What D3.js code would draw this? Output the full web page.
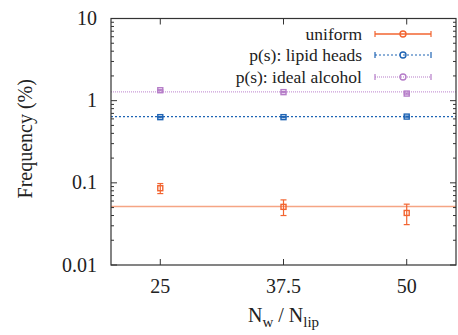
<!DOCTYPE html>
<html><head><meta charset="utf-8">
<script src="https://cdn.jsdelivr.net/npm/d3@7"></script>
<style>body{margin:0;background:#fff}svg{display:block}</style>
</head><body><svg id="c" width="458" height="335"></svg>
<script>
const ratios = [25, 37.5, 50];
const xTickLabels = ["25", "37.5", "50"];
const yTickValues = [0.01, 0.1, 1, 10];
const yTickLabels = ["0.01", "0.1", "1", "10"];
const seriesNames = ["uniform", "p(s): lipid heads", "p(s): ideal alcohol"];
const uniformVals = [0.086, 0.051, 0.043];
const uniformErr = [0.012, 0.011, 0.012];
const lipidVals = [0.63, 0.63, 0.64];
const lipidErr = [0.01, 0.01, 0.01];
const alcoholVals = [1.34, 1.27, 1.22];
const alcoholErr = [0.02, 0.02, 0.02];
const refLevels = [0.0515, 0.64, 1.28];
const colors = ["#f26430", "#1f64b4", "#b57cc8"];
const lineColors = ["#f5a584", "#1f64b4", "#c99bd8"];
const FONT = "Liberation Serif";

const svg = d3.select("#c");
const m = {l:111, r:2, t:18.5, b:70};
const W = 458, H = 335;
const x = d3.scaleLinear().domain([20, 55]).range([m.l, W - m.r]);
const y = d3.scaleLog().domain([0.01, 10]).range([H - m.b, m.t]);
const x0 = m.l, x1 = W - m.r, y0 = H - m.b, y1 = m.t;
const txtCol = "#222";
const T = () => svg.append("text").attr("font-family", FONT).attr("fill", txtCol);

const dashes = [null, "2,2", "1,1"];
refLevels.forEach((v,i)=>{
  svg.append("line").attr("x1",x0).attr("x2",x1).attr("y1",y(v)).attr("y2",y(v))
    .attr("stroke",lineColors[i]).attr("stroke-width",i===0?1.6:1.1)
    .attr("stroke-dasharray",dashes[i]);
});

const g = svg.append("g").attr("stroke","#333").attr("fill","none");
g.append("rect").attr("x",x0).attr("y",y1).attr("width",x1-x0).attr("height",y0-y1).attr("stroke-width",1.2);
ratios.forEach(r=>{
  g.append("line").attr("x1",x(r)).attr("x2",x(r)).attr("y1",y0).attr("y2",y0-6);
  g.append("line").attr("x1",x(r)).attr("x2",x(r)).attr("y1",y1).attr("y2",y1+6);
});
const minor = [];
for (let d=0.01; d<10; d*=10) for (let k=1;k<10;k++) minor.push(d*k);
minor.push(10);
minor.forEach(v=>{
  const major = yTickValues.some(t=>Math.abs(t-v)/t<1e-6);
  const len = major?6:3;
  g.append("line").attr("x1",x0).attr("x2",x0+len).attr("y1",y(v)).attr("y2",y(v));
  g.append("line").attr("x1",x1).attr("x2",x1-len).attr("y1",y(v)).attr("y2",y(v));
});

yTickValues.forEach((v,i)=>{
  T().attr("x",x0-14).attr("y",y(v)).attr("dy","0.33em").attr("text-anchor","end")
    .attr("font-size",20).text(yTickLabels[i]);
});
ratios.forEach((r,i)=>{
  T().attr("x",x(r)).attr("y",y0+28).attr("text-anchor","middle")
    .attr("font-size",20).text(xTickLabels[i]);
});

const xt = T().attr("x",x(37.5)).attr("y",y0+57).attr("text-anchor","middle").attr("font-size",20);
xt.append("tspan").text("N");
xt.append("tspan").attr("font-size",15).attr("dy",5).text("w");
xt.append("tspan").attr("dy",-5).text(" / N");
xt.append("tspan").attr("font-size",15).attr("dy",5).text("lip");
T().attr("transform",`translate(32,${(y0+y1)/2 - 3}) rotate(-90)`).attr("text-anchor","middle")
  .attr("font-size",20).text("Frequency (%)");

const series = [[uniformVals,uniformErr],[lipidVals,lipidErr],[alcoholVals,alcoholErr]];
series.forEach(([vals,errs],i)=>{
  const c = colors[i];
  vals.forEach((v,j)=>{
    const px = x(ratios[j]);
    const e = errs[j];
    const yt = y(v+e), yb = y(Math.max(v-e,1e-4));
    svg.append("line").attr("x1",px).attr("x2",px).attr("y1",yt).attr("y2",yb).attr("stroke",c).attr("stroke-width",1.2);
    [yt,yb].forEach(yy=>svg.append("line").attr("x1",px-3).attr("x2",px+3).attr("y1",yy).attr("y2",yy).attr("stroke",c).attr("stroke-width",1.2));
    svg.append("rect").attr("x",px-2.5).attr("y",y(v)-2.5).attr("width",5).attr("height",5)
      .attr("fill","none").attr("stroke",c).attr("stroke-width",1.4);
  });
});

const ly = [34, 55, 77];
seriesNames.forEach((n,i)=>{
  T().attr("x",362).attr("y",ly[i]).attr("dy","0.33em").attr("text-anchor","end")
    .attr("font-size",17.5).text(n);
  svg.append("line").attr("x1",375).attr("x2",431).attr("y1",ly[i]).attr("y2",ly[i])
    .attr("stroke",colors[i]).attr("stroke-width",i===0?1.5:1.2).attr("stroke-dasharray",dashes[i]);
  [375,431].forEach(xx=>svg.append("line").attr("x1",xx).attr("x2",xx).attr("y1",ly[i]-3).attr("y2",ly[i]+3).attr("stroke",colors[i]).attr("stroke-width",1.2));
  svg.append("circle").attr("cx",403).attr("cy",ly[i]).attr("r",3).attr("fill","none").attr("stroke",colors[i]).attr("stroke-width",1.4);
});
</script></body></html>
